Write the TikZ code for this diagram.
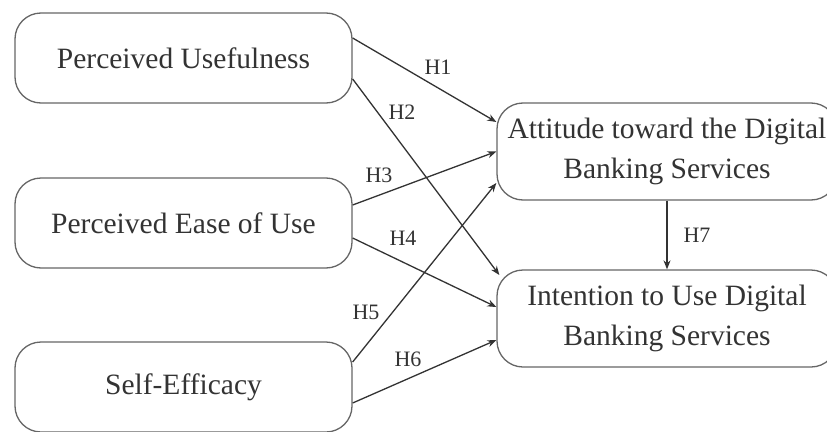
\documentclass[tikz,border=0pt]{standalone}
\usepackage{fontspec}
\setmainfont{Liberation Serif}
\usetikzlibrary{arrows.meta}
\begin{document}
\begin{tikzpicture}[x=1pt,y=-1pt,
  box/.style={draw=black!60, line width=1.3pt, rounded corners=26pt, fill=white,
    minimum width=337pt, minimum height=90pt, inner sep=0pt, align=center,
    font=\fontsize{29.5}{40}\selectfont, text=black!80},
  rbox/.style={box, minimum width=340pt, minimum height=97pt},
  conn/.style={draw=black!80, line width=1.3pt, -{Stealth[length=9pt,width=7pt]}},
  hlab/.style={font=\fontsize{22}{24}\selectfont, text=black!80, inner sep=0pt}]
\useasboundingbox (0,0) rectangle (827,431);
\clip (0,0) rectangle (827,431);
\fill[white] (0,0) rectangle (827,431);
\node[box] (pu) at (183.5,58) {Perceived Usefulness};
\node[box] (peu) at (183.5,223) {Perceived Ease of Use};
\node[box] (se) at (183.5,387) {Self-Efficacy};
\node[rbox] (att) at (667,151.5) {Attitude toward the Digital\\Banking Services};
\node[rbox] (int) at (667,318.5) {Intention to Use Digital\\Banking Services};
\draw[conn] ([yshift=20pt]pu.east) -- ([yshift=29.5pt]att.west);
\draw[conn] ([yshift=-21pt]pu.east) -- ([xshift=3pt,yshift=43.5pt]int.west);
\draw[conn] ([yshift=18pt]peu.east) -- ([yshift=0pt]att.west);
\draw[conn] ([yshift=-15pt]peu.east) -- ([yshift=11.5pt]int.west);
\draw[conn] ([yshift=25pt]se.east) -- ([yshift=-31.5pt]att.west);
\draw[conn] ([yshift=-16pt]se.east) -- ([yshift=-21.5pt]int.west);
\draw[conn] (att.south) -- (int.north);
\node[hlab] (h1) at (438,67) {H1};
\node[hlab] (h2) at (402,112) {H2};
\node[hlab] (h3) at (379,175) {H3};
\node[hlab] (h4) at (403,238) {H4};
\node[hlab] (h5) at (366,312) {H5};
\node[hlab] (h6) at (408,359) {H6};
\node[hlab] (h7) at (697,235) {H7};
\end{tikzpicture}
\end{document}
